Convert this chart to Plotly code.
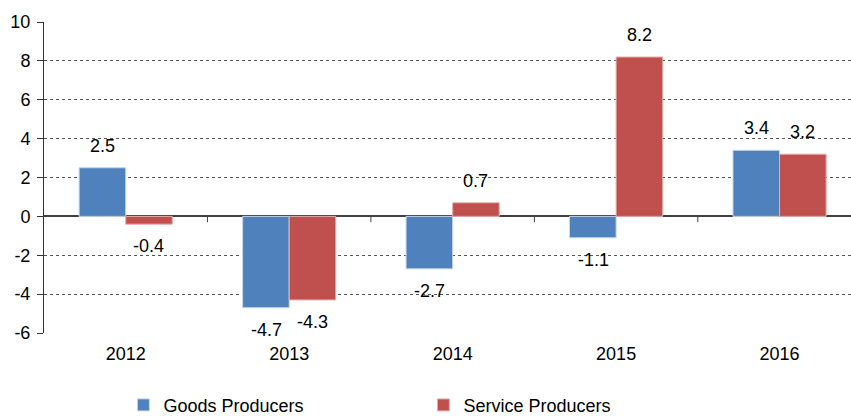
import plotly.graph_objects as go

years = ["2012", "2013", "2014", "2015", "2016"]
goods = [2.5, -4.7, -2.7, -1.1, 3.4]
services = [-0.4, -4.3, 0.7, 8.2, 3.2]
y_ticks = [-6, -4, -2, 0, 2, 4, 6, 8, 10]

BLUE = "#4F81BD"
RED = "#C0504D"
FONT = "Liberation Sans, Arial, sans-serif"

fig = go.Figure()
fig.add_trace(go.Bar(x=years, y=goods, name="Goods Producers",
                     marker=dict(color=BLUE, line=dict(color="#c6d6ea", width=1))))
fig.add_trace(go.Bar(x=years, y=services, name="Service Producers",
                     marker=dict(color=RED, line=dict(color="#e6b0ae", width=1))))

# value labels, offset beyond the bar ends
for vals, shift in ((goods, -23), (services, 23)):
    for i, v in enumerate(vals):
        fig.add_annotation(x=i, y=v, text=f"{v:.1f}", showarrow=False,
                           xref="x", yref="y",
                           xshift=shift, yshift=22 if v >= 0 else -22,
                           font=dict(size=18, color="black", family=FONT))

# category separator ticks on the zero line
for i in range(len(years)):
    fig.add_shape(type="line", xref="x", yref="y", x0=i + 0.5, x1=i + 0.5,
                  y0=0, y1=-0.3, line=dict(color="#404040", width=1))

fig.update_layout(
    width=851, height=416,
    margin=dict(l=44, r=0, t=22, b=83, autoexpand=False),
    plot_bgcolor="white", paper_bgcolor="white",
    barmode="group", bargap=0.43, bargroupgap=0,
    font=dict(family=FONT, size=18, color="black"),
    showlegend=True,
    legend=dict(orientation="h", xref="container", yref="container",
                x=0.145, xanchor="left", y=0.026, yanchor="middle",
                entrywidth=255, entrywidthmode="pixels", font=dict(size=18),
                itemwidth=30, traceorder="normal"),
)
fig.update_xaxes(type="category", range=[-0.5, 4.437], showgrid=False, showline=False,
                 ticks="", zeroline=False, automargin=False, tickfont=dict(size=18),
                 ticklabelstandoff=8)
fig.update_yaxes(range=[-6, 10], tickvals=y_ticks, ticktext=[str(t) for t in y_ticks],
                 showgrid=True, gridcolor="#555555",
                 griddash="dot", gridwidth=1, zeroline=True, zerolinecolor="#404040",
                 zerolinewidth=1.5, showline=True, linecolor="#333333", linewidth=1,
                 ticks="outside", ticklen=6, tickcolor="#333333", automargin=False,
                 ticklabelstandoff=3, tickfont=dict(size=18))

fig.write_html("out.html", config={"displayModeBar": False},
               post_script="document.body.style.margin='0';")
